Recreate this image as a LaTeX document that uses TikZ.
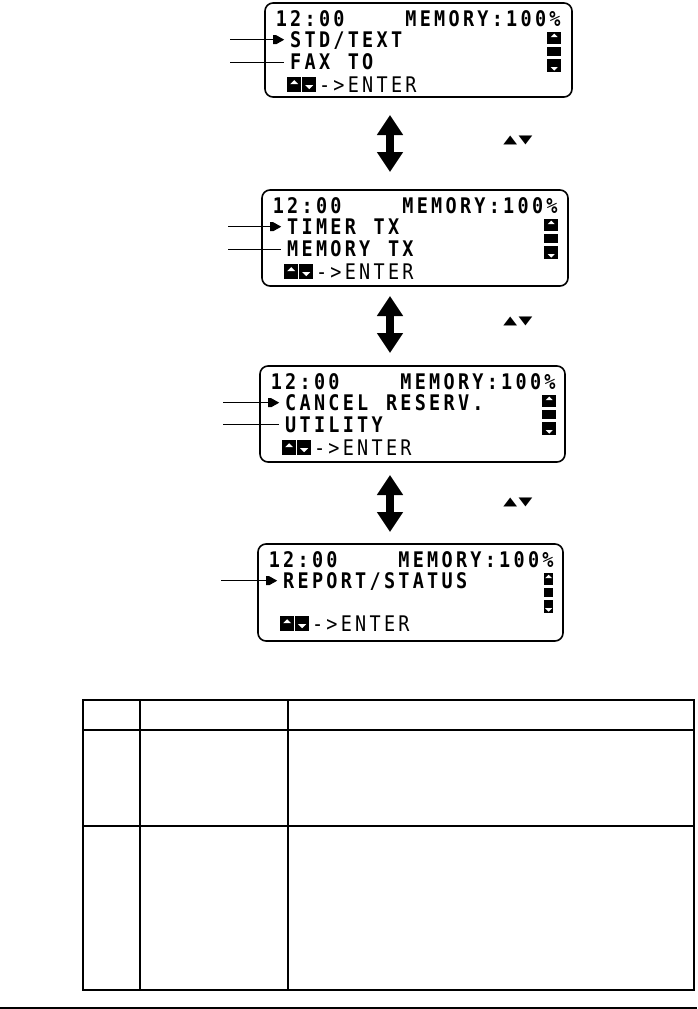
\documentclass[tikz,border=0pt]{standalone}
\usepackage{fontspec}
\usepackage{graphicx}
\usetikzlibrary{arrows.meta,calc}
\newfontfamily\lcdfont[FakeStretch=0.86]{DejaVu Sans Mono}
\newfontfamily\symfont{DejaVu Sans}
\makeatletter
\newcommand\lcd[1]{\lcd@#1\relax}
\def\lcd@#1{\ifx#1\relax\else\makebox[14.4pt][c]{#1}\expandafter\lcd@\fi}
\makeatother
\tikzset{
  panel/.style={draw, line width=1.6pt, rounded corners=8pt, inner sep=0pt},
  lcdtext/.style={inner sep=0pt, anchor=base west, font=\lcdfont\bfseries\fontsize{21.5}{21.5}\selectfont},
  lcdthin/.style={inner sep=0pt, anchor=base west, font=\lcdfont\fontsize{21.5}{21.5}\selectfont},
  leader/.style={draw, line width=0.9pt},
  dbl/.style={line width=8pt, line cap=butt, {Triangle[length=20pt 0,width=25pt 0]}-{Triangle[length=20pt 0,width=25pt 0]}},
  tbl/.style={line width=1.3pt},
  navkey/.style={font=\symfont\fontsize{18}{18}\selectfont, inner sep=0pt},
}
% #1 name, #2 row-2 text, #3 row-3 text, #4 scroll x offset, #5 scroll width, #6 enter baseline
\newcommand\lcdscreen[6]{%
  \node[lcdtext] (#1-time) at ($(#1.north west)+(9.8,24)$) {\lcd{12:00}};
  \node[lcdtext] (#1-mem) at ($(#1.north west)+(139.4,24)$) {\lcd{MEMORY:100\%}};
  \coordinate (#1-mk) at ($(#1.north west)+(9,37.5)$);
  \fill (#1-mk) ++(0,-4.5) -- ++(3,0) -- ++(8,4.5) -- ++(-8,4.5) -- ++(-3,0) -- cycle;
  \node[lcdtext] (#1-r2) at ($(#1.north west)+(24.2,45.5)$) {\lcd{#2}};
  \node[lcdtext] (#1-r3) at ($(#1.north west)+(24.2,67.5)$) {\lcd{#3}};
  % enter row keys
  \coordinate (#1-k) at ($(#1.north west)+(23,#6-15)$);
  \fill (#1-k) rectangle ++(14,15);
  \fill[white] ($(#1-k)+(3,7)$) -- ++(4,-4) -- ++(4,4) -- cycle;
  \fill ($(#1-k)+(15,0)$) rectangle ++(14,15);
  \fill[white] ($(#1-k)+(18,8)$) -- ++(4,4) -- ++(4,-4) -- cycle;
  \node[lcdthin] (#1-ent) at ($(#1.north west)+(53,#6)$) {\lcd{->ENTER}};
  % scroll indicator
  \coordinate (#1-s) at ($(#1.north west)+(#4,30)$);
  \fill (#1-s) rectangle ++(#5,12);
  \fill[white] ($(#1-s)+(#5/2-3.5,5)$) -- ++(3.5,-3.5) -- ++(3.5,3.5) -- cycle;
  \fill ($(#1-s)+(0,15)$) rectangle ++(#5,9);
  \fill ($(#1-s)+(0,27)$) rectangle ++(#5,13);
  \fill[white] ($(#1-s)+(#5/2-3.5,35)$) -- ++(3.5,3.5) -- ++(3.5,-3.5) -- cycle;
}
\begin{document}
\begin{tikzpicture}[x=1pt,y=-1pt]
\useasboundingbox (0,0) rectangle (697,1009);

% panels
\node[panel, minimum width=307pt, minimum height=94pt] (p1) at (418.5,50) {};
\node[panel, minimum width=306pt, minimum height=96pt] (p2) at (415,238) {};
\node[panel, minimum width=305pt, minimum height=96pt] (p3) at (412.5,414) {};
\node[panel, minimum width=305pt, minimum height=97pt] (p4) at (410.5,592.5) {};

\lcdscreen{p1}{STD/TEXT}{FAX~TO}{283}{14}{90}
\lcdscreen{p2}{TIMER~TX}{MEMORY~TX}{283}{14}{90}
\lcdscreen{p3}{CANCEL~RESERV.}{UTILITY}{283}{14}{90}
\lcdscreen{p4}{REPORT/STATUS}{}{287}{9}{88}

% leader lines
\coordinate (x1) at (230,0);
\coordinate (x2) at (228,0);
\coordinate (x3) at (223,0);
\coordinate (x4) at (221,0);
\coordinate (y1) at (0,62);
\coordinate (y2) at (0,249);
\coordinate (y3) at (0,424);
\draw[leader] (p1-mk -| x1) -- (p1-mk);
\draw[leader, shorten >=4pt] (y1 -| x1) -- (y1 -| p1-r3.west);
\draw[leader] (p2-mk -| x2) -- (p2-mk);
\draw[leader, shorten >=4pt] (y2 -| x2) -- (y2 -| p2-r3.west);
\draw[leader] (p3-mk -| x3) -- (p3-mk);
\draw[leader, shorten >=4pt] (y3 -| x3) -- (y3 -| p3-r3.west);
\draw[leader] (p4-mk -| x4) -- (p4-mk);

% double arrows
\coordinate (a1t) at (390,115);
\coordinate (a1b) at (390,172);
\coordinate (a2t) at (390,296);
\coordinate (a2b) at (390,353);
\coordinate (a3t) at (390,475);
\coordinate (a3b) at (390,532);
\draw[dbl] (a1t) -- (a1b);
\draw[dbl] (a2t) -- (a2b);
\draw[dbl] (a3t) -- (a3b);

% key labels
\node[navkey] (k1) at (518,140.5) {\scalebox{1}[0.65]{▲\kern1.5pt▼}};
\node[navkey] (k2) at (518,321) {\scalebox{1}[0.65]{▲\kern1.5pt▼}};
\node[navkey] (k3) at (518,502) {\scalebox{1}[0.65]{▲\kern1.5pt▼}};

% table
\draw[tbl] (83,700) rectangle (694,990);
\draw[tbl] (140,700) -- (140,990);
\draw[tbl] (288,700) -- (288,990);
\draw[tbl] (83,730) -- (694,730);
\draw[tbl] (83,826) -- (694,826);

% page rule
\draw[line width=1.2pt] (0,1008) -- (697,1008);
\end{tikzpicture}
\end{document}
